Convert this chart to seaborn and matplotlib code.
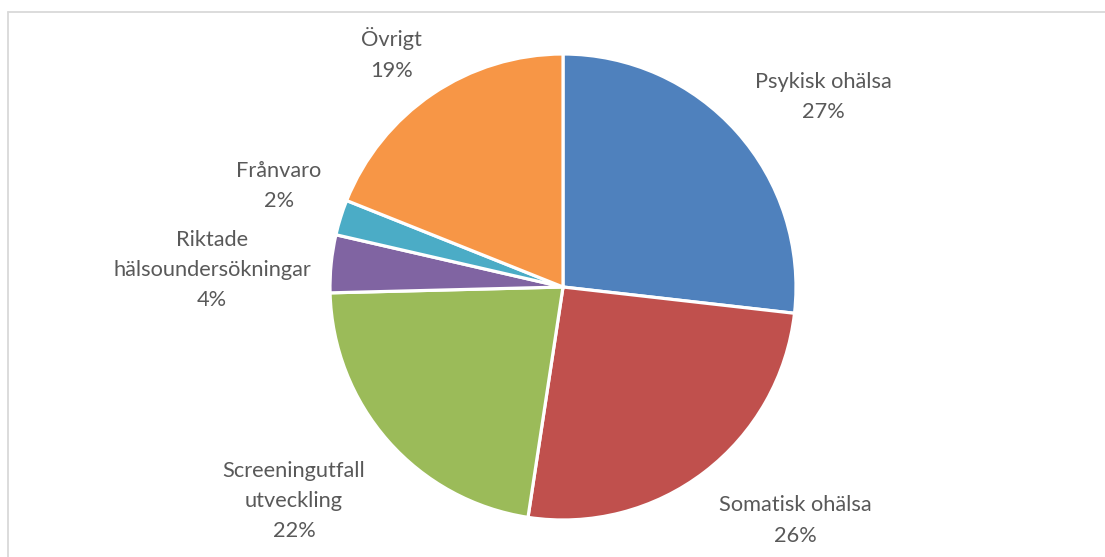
import matplotlib
matplotlib.use("Agg")
import matplotlib.pyplot as plt
import numpy as np
import seaborn as sns
from matplotlib.lines import Line2D

# data (share in percent)
categories = ['Psykisk ohälsa', 'Somatisk ohälsa', 'Screeningutfall\nutveckling',
              'Riktade\nhälsoundersökningar', 'Frånvaro', 'Övrigt']
shares = [26.8, 25.6, 22.2, 4.0, 2.45, 18.95]
colors = ['#4F81BD', '#C0504D', '#9BBB59', '#8064A2', '#4BACC6', '#F79646']

# label placement: (radius factor, angle shift in degrees) relative to wedge middle
label_pos = [(1.382, -5.6), (1.414, 7.4), (1.475, -2.9),
             (1.508, 3.0), (1.294, -2.2), (1.240, 2.2)]

sns.set_theme(style="white")
plt.rcParams['font.family'] = ['Lato', 'DejaVu Sans']

W, H = 1105, 557
fig = plt.figure(figsize=(W / 100, H / 100), dpi=100)
ax = fig.add_axes([0, 0, 1, 1])

cx, cy, R = 563, H - 287, 233
wedges, _ = ax.pie(shares, colors=colors, startangle=90, counterclock=False,
                   center=(cx, cy), radius=R,
                   wedgeprops=dict(edgecolor='white', linewidth=2.3))

total = sum(shares)
for w, name, val, (rf, dang) in zip(wedges, categories, shares, label_pos):
    mid = np.deg2rad((w.theta1 + w.theta2) / 2 + dang)
    x = cx + rf * R * np.cos(mid)
    y = cy + rf * R * np.sin(mid)
    ax.text(x, y, f'{name}\n{round(val / total * 100)}%', ha='center', va='center',
            fontsize=15.7, color='#595959', linespacing=1.65)

ax.set_xlim(0, W)
ax.set_ylim(0, H)
ax.set_aspect('equal')
ax.axis('off')

# chart area border (only top and left edges are visible)
bx, by = 7.5 / W, 1 - 11.5 / H
fig.add_artist(Line2D([bx, bx], [0, by], color='#D9D9D9', lw=1.3, transform=fig.transFigure))
fig.add_artist(Line2D([bx, 1], [by, by], color='#D9D9D9', lw=1.3, transform=fig.transFigure))

fig.savefig('out.png', dpi=100)
